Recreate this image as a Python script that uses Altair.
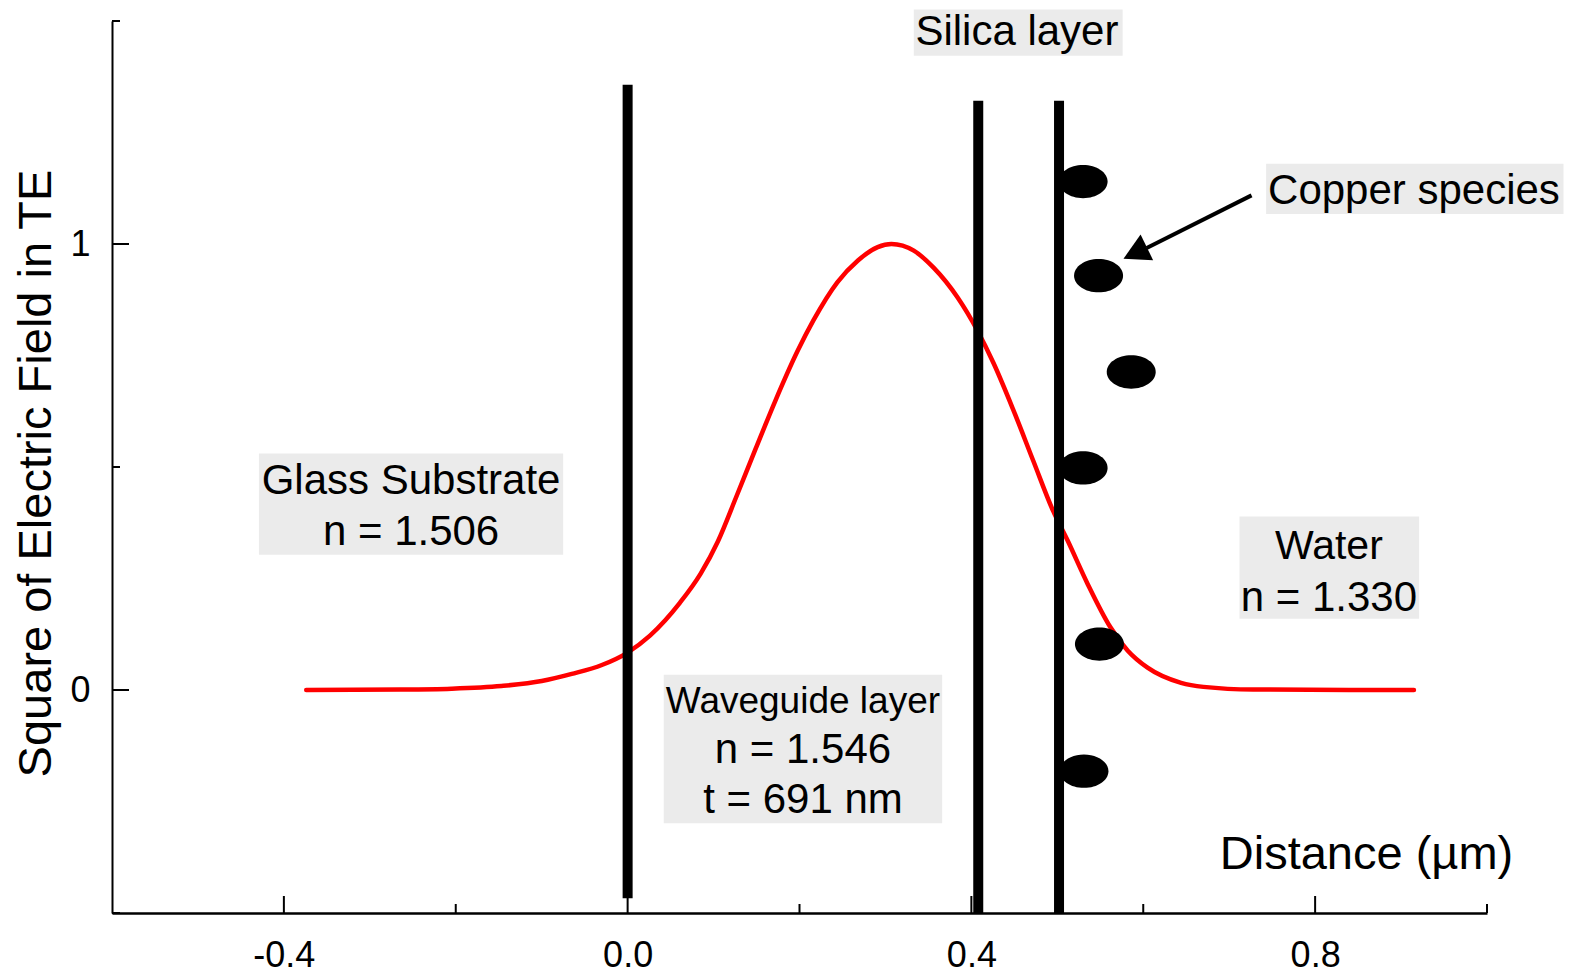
import altair as alt
import pandas as pd

FONT = "Liberation Sans"

# ---------------- data ----------------
curve_x = [-0.374, -0.264, -0.205, -0.147, -0.100, -0.065, -0.030, 0.000, 0.026, 0.061,
           0.085, 0.105, 0.126, 0.149, 0.172, 0.198, 0.216, 0.244, 0.268, 0.291,
           0.307, 0.333, 0.356, 0.384, 0.407, 0.426, 0.449, 0.472, 0.495, 0.512,
           0.535, 0.562, 0.582, 0.605, 0.644, 0.670, 0.728, 0.915]
curve_y = [0.000, 0.001, 0.003, 0.009, 0.020, 0.036, 0.056, 0.084, 0.122, 0.196,
           0.261, 0.333, 0.431, 0.541, 0.649, 0.761, 0.828, 0.914, 0.963, 0.993,
           1.000, 0.985, 0.947, 0.880, 0.806, 0.732, 0.627, 0.514, 0.402, 0.335,
           0.239, 0.140, 0.088, 0.050, 0.016, 0.007, 0.001, 0.000]

interface_x = [0.0, 0.408, 0.502]
interface_top = [1.357, 1.321, 1.321]
interface_bottom = [-0.467, -0.5, -0.5]

copper_x = [0.530, 0.548, 0.586, 0.530, 0.549, 0.531]
copper_y = [1.140, 0.929, 0.713, 0.498, 0.103, -0.182]

label_text = ["Silica layer", "Copper species", "Glass Substrate", "n = 1.506",
              "Water", "n = 1.330", "Waveguide layer", "n = 1.546", "t = 691 nm"]
label_x = [0.453, 0.915, -0.252, -0.252, 0.816, 0.816, 0.204, 0.204, 0.204]
label_y = [1.447, 1.090, 0.440, 0.324, 0.294, 0.178, -0.051, -0.163, -0.275]
label_size = [42, 42, 42, 42, 41, 42, 37, 42, 42]

box_x1 = [0.333, 0.743, -0.429, 0.712, 0.042]
box_x2 = [0.576, 1.089, -0.075, 0.921, 0.366]
box_y1 = [1.526, 1.180, 0.530, 0.389, 0.034]
box_y2 = [1.422, 1.067, 0.303, 0.160, -0.299]

arrow_start = (0.726, 1.109)
arrow_end = (0.604, 0.991)
arrow_tip = (0.577, 0.967)

x_major = [-0.4, 0.0, 0.4, 0.8]
x_minor = [-0.2, 0.2, 0.6, 1.0]
y_major = [0, 1]
y_minor = [-0.5, 0.5, 1.5]

# ---------------- tables ----------------
curve_df = pd.DataFrame({"x": curve_x, "y": curve_y})
iface_df = pd.DataFrame({"x": interface_x, "top": interface_top, "bottom": interface_bottom})
copper_df = pd.DataFrame({"x": copper_x, "y": copper_y})
label_df = pd.DataFrame({"x": label_x, "y": label_y, "text": label_text, "fs": label_size})
box_df = pd.DataFrame({"x1": box_x1, "x2": box_x2, "y1": box_y1, "y2": box_y2})
arrow_df = pd.DataFrame({"x": [arrow_start[0]], "y": [arrow_start[1]],
                         "x2": [arrow_end[0]], "y2": [arrow_end[1]]})
tip_df = pd.DataFrame({"x": [arrow_tip[0]], "y": [arrow_tip[1]]})
xt_df = pd.DataFrame({"v": x_major + x_minor,
                      "len": [17] * len(x_major) + [9] * len(x_minor)})
yt_df = pd.DataFrame({"v": y_major + y_minor,
                      "len": [17] * len(y_major) + [8] * len(y_minor)})

W, H = 1375, 892
PAD_L, PAD_T = 112, 21

xs = alt.Scale(domain=[-0.6, 1.0], nice=False, zero=False)
ys = alt.Scale(domain=[-0.5, 1.5], nice=False, zero=False)

x_axis = alt.Axis(
    values=x_major,
    labelExpr="datum.value < 0 ? '-' + format(-datum.value, '.1f') : format(datum.value, '.1f')",
    labelFont=FONT, labelFontSize=36, labelColor="black", labelPadding=25,
    ticks=False, tickSize=0, grid=False,
    domainColor="black", domainWidth=2.5,
    title="Distance (µm)", titleFont=FONT, titleFontSize=47, titleFontWeight="normal",
    titleColor="black", titleX=1254, titleY=-45, titleAlign="center",
    titleBaseline="alphabetic",
)
y_axis = alt.Axis(
    values=y_major, format="d",
    labelFont=FONT, labelFontSize=36, labelColor="black", labelPadding=22,
    ticks=False, tickSize=0, grid=False,
    domainColor="black", domainWidth=2,
    title="Square of Electric Field in TE", titleFont=FONT, titleFontSize=47,
    titleFontWeight="normal", titleColor="black", titleAngle=270,
    titleX=-76, titleY=452, titleAlign="center", titleBaseline="middle",
)


def X(field):
    return alt.X(field, type="quantitative", scale=xs, axis=x_axis)


def Y(field):
    return alt.Y(field, type="quantitative", scale=ys, axis=y_axis)


boxes = alt.Chart(box_df).mark_rect(color="#ebebeb").encode(
    x=X("x1"), x2="x2", y=Y("y1"), y2="y2")

labels = alt.Chart(label_df).mark_text(
    font=FONT, color="black", align="center", baseline="alphabetic").encode(
    x=X("x"), y=Y("y"), text="text:N", size=alt.Size("fs:Q", scale=None))

curve = alt.Chart(curve_df).mark_line(
    color="#ff0000", strokeWidth=4.5, strokeCap="round", interpolate="monotone").encode(
    x=X("x"), y=Y("y"))

interfaces = alt.Chart(iface_df).mark_rule(color="black", strokeWidth=10).encode(
    x=X("x"), y=Y("top"), y2="bottom")

ellipse_path = "M-1,0 A1,0.68 0 1,0 1,0 A1,0.68 0 1,0 -1,0 Z"
copper = alt.Chart(copper_df).mark_point(
    shape=ellipse_path, size=2401, filled=True, color="black", opacity=1, strokeWidth=0).encode(
    x=X("x"), y=Y("y"))

arrow_line = alt.Chart(arrow_df).mark_rule(color="black", strokeWidth=4).encode(
    x=X("x"), y=Y("y"), x2="x2", y2="y2")

head_path = "M0,0 L0.55,1 L-0.55,1 Z"
arrow_head = alt.Chart(tip_df).mark_point(
    shape=head_path, size=2704, angle=244, filled=True, color="black", opacity=1,
    strokeWidth=0).encode(x=X("x"), y=Y("y"))

x_ticks = alt.Chart(xt_df).mark_rule(color="black", strokeWidth=2).encode(
    x=X("v"), y=alt.value(H), y2=alt.YValue(alt.expr(f"{H} - datum.len")))

y_ticks = alt.Chart(yt_df).mark_rule(color="black", strokeWidth=2).encode(
    y=Y("v"), x=alt.value(0), x2=alt.X2Value(alt.expr("datum.len")))

chart = alt.layer(
    boxes, labels, curve, interfaces, copper, arrow_line, arrow_head, x_ticks, y_ticks
).properties(
    width=W, height=H,
    padding={"left": PAD_L, "top": PAD_T, "right": 1571 - PAD_L - W, "bottom": 973 - PAD_T - H},
    autosize=alt.AutoSizeParams(type="none"),
    background="white",
).configure_view(stroke=None)

chart.save("out.html", embed_options={"renderer": "svg", "actions": False})
